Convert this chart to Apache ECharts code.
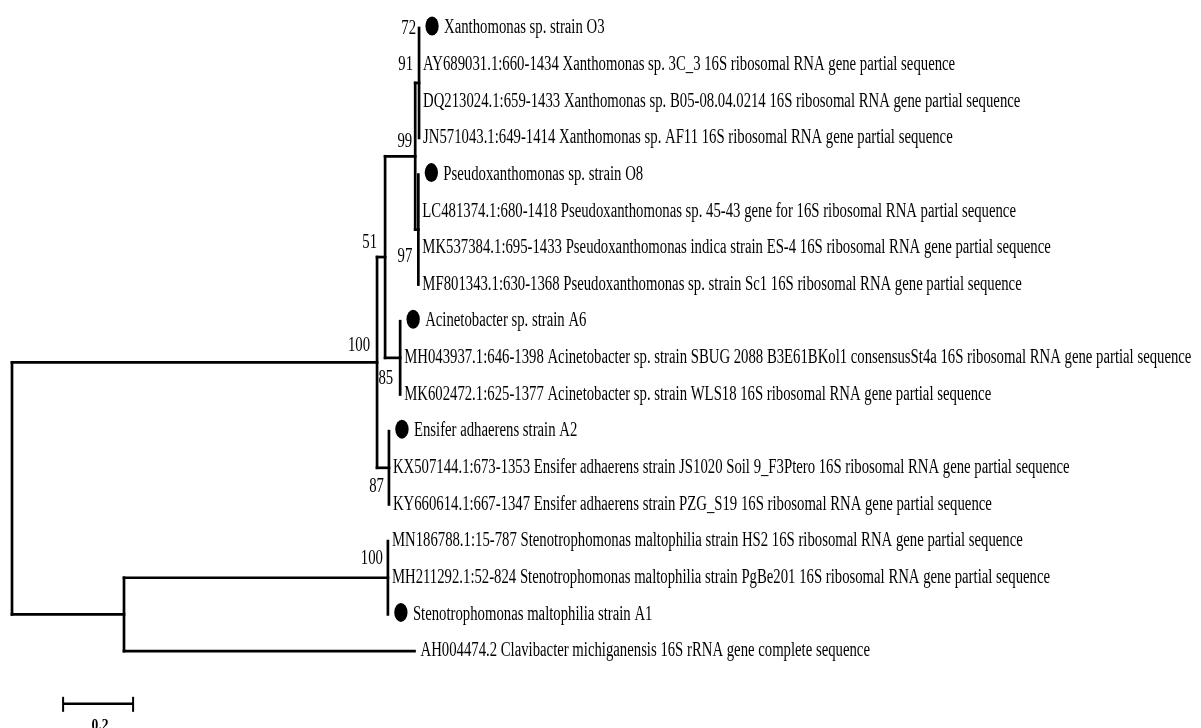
<!DOCTYPE html>
<html>
<head>
<meta charset="utf-8">
<script src="https://cdn.jsdelivr.net/npm/echarts/dist/echarts.min.js"></script>
<style>
  html, body { margin: 0; padding: 0; background: #fff; }
  #main { width: 1201px; height: 728px; }
</style>
</head>
<body>
<div id="main"></div>
<script>
// leaves, top to bottom
const leafNames = [
  'Xanthomonas sp. strain O3',
  'AY689031.1:660-1434 Xanthomonas sp. 3C_3 16S ribosomal RNA gene partial sequence',
  'DQ213024.1:659-1433 Xanthomonas sp. B05-08.04.0214 16S ribosomal RNA gene partial sequence',
  'JN571043.1:649-1414 Xanthomonas sp. AF11 16S ribosomal RNA gene partial sequence',
  'Pseudoxanthomonas sp. strain O8',
  'LC481374.1:680-1418 Pseudoxanthomonas sp. 45-43 gene for 16S ribosomal RNA partial sequence',
  'MK537384.1:695-1433 Pseudoxanthomonas indica strain ES-4 16S ribosomal RNA gene partial sequence',
  'MF801343.1:630-1368 Pseudoxanthomonas sp. strain Sc1 16S ribosomal RNA gene partial sequence',
  'Acinetobacter sp. strain A6',
  'MH043937.1:646-1398 Acinetobacter sp. strain SBUG 2088 B3E61BKol1 consensusSt4a 16S ribosomal RNA gene partial sequence',
  'MK602472.1:625-1377 Acinetobacter sp. strain WLS18 16S ribosomal RNA gene partial sequence',
  'Ensifer adhaerens strain A2',
  'KX507144.1:673-1353 Ensifer adhaerens strain JS1020 Soil 9_F3Ptero 16S ribosomal RNA gene partial sequence',
  'KY660614.1:667-1347 Ensifer adhaerens strain PZG_S19 16S ribosomal RNA gene partial sequence',
  'MN186788.1:15-787 Stenotrophomonas maltophilia strain HS2 16S ribosomal RNA gene partial sequence',
  'MH211292.1:52-824 Stenotrophomonas maltophilia strain PgBe201 16S ribosomal RNA gene partial sequence',
  'Stenotrophomonas maltophilia strain A1',
  'AH004474.2 Clavibacter michiganensis 16S rRNA gene complete sequence'
];
// 1 = own isolate (marked with a dot)
const leafIsolate = [1, 0, 0, 0, 1, 0, 0, 0, 1, 0, 0, 1, 0, 0, 0, 0, 1, 0];
const leafParent = ['xan', 'xan', 'xan', 'xan', 'pse', 'pse', 'pse', 'pse', 'aci', 'aci', 'aci',
  'ens', 'ens', 'ens', 'ste', 'ste', 'ste', 'out'];
const leafLen = [0, 0, 0, 0, 0, 0, 0, 0, 0, 0, 0, 0, 0, 0, 0, 0, 0, 0.83];

// internal nodes
const nodeIds = ['root', 'n100', 'n51', 'n99', 'xan', 'pse', 'aci', 'ens', 'out', 'ste'];
const nodeParent = [null, 'root', 'n100', 'n51', 'n99', 'n99', 'n51', 'n100', 'root', 'out'];
const nodeLen = [0, 1.043, 0.023, 0.086, 0.011, 0.009, 0.043, 0.034, 0.32, 0.754];

// bootstrap values
const supportNode = ['xan', 'xan', 'n99', 'pse', 'n51', 'n100', 'aci', 'ens', 'ste'];
const supportValue = ['72', '91', '99', '97', '51', '100', '85', '87', '100'];

const scaleBarLen = 0.2;

// label placement (px offsets from node)
const supportOffset = [[-3, -54], [-6, -18], [-3, -15], [-6, 27], [-8, -14], [-7, -17], [-7, 21], [-5, 19], [-5, -19]];

const FONT = '"Liberation Serif", "Times New Roman", serif';
const SX = 0.737; // condensed look of the original text

// ---- layout of the tree ----
function nodeX(id) {
  if (id === 'root') return 0;
  const i = nodeIds.indexOf(id);
  return nodeX(nodeParent[i]) + nodeLen[i];
}
function childYs(id) {
  const ys = [];
  nodeIds.forEach((n, i) => { if (nodeParent[i] === id) ys.push(nodeY(n)); });
  leafParent.forEach((p, i) => { if (p === id) ys.push(i); });
  return ys;
}
function nodeY(id) {
  const ys = childYs(id);
  return (Math.min(...ys) + Math.max(...ys)) / 2;
}

const segs = [];
nodeIds.forEach((id, i) => {
  const x = nodeX(id);
  const ys = childYs(id);
  segs.push([x, Math.min(...ys), x, Math.max(...ys)]);
  if (nodeParent[i]) segs.push([nodeX(nodeParent[i]), nodeY(id), x, nodeY(id)]);
});
const leafData = leafNames.map((name, i) => {
  const px = nodeX(leafParent[i]);
  if (leafLen[i] > 0) segs.push([px, i, px + leafLen[i], i]);
  return [px + leafLen[i], i, i];
});
const supportData = supportNode.map((id, i) => [nodeX(id), nodeY(id), i]);

const chart = echarts.init(document.getElementById('main'));
chart.setOption({
  animation: false,
  backgroundColor: '#fff',
  grid: { left: 12, top: 28, width: 1050, height: 17 * 36.65 },
  xAxis: { type: 'value', min: 0, max: 3, show: false },
  yAxis: { type: 'value', min: 0, max: 17, inverse: true, show: false },
  series: [
    {
      type: 'custom',
      clip: false,
      silent: true,
      encode: { x: [0, 2], y: [1, 3] },
      data: segs,
      renderItem: (params, api) => {
        const a = api.coord([api.value(0), api.value(1)]);
        const b = api.coord([api.value(2), api.value(3)]);
        return {
          type: 'line',
          shape: { x1: a[0], y1: a[1], x2: b[0], y2: b[1] },
          style: { stroke: '#000', lineWidth: 2.7, lineCap: 'square' }
        };
      }
    },
    {
      type: 'custom',
      clip: false,
      silent: true,
      encode: { x: 0, y: 1 },
      data: leafData,
      renderItem: (params, api) => {
        const idx = api.value(2);
        const p = api.coord([api.value(0), api.value(1)]);
        const children = [];
        let tx = p[0] + 4;
        if (leafLen[idx] > 0) tx = p[0] + 6;
        if (leafIsolate[idx]) {
          children.push({
            type: 'circle', x: p[0] + 13, y: p[1] - 2, scaleX: 0.7,
            shape: { cx: 0, cy: 0, r: 9.5 },
            style: { fill: '#000' }
          });
          tx = p[0] + 25;
        }
        children.push({
          type: 'text', x: tx, y: p[1], scaleX: SX,
          style: {
            text: leafNames[idx], fontSize: 20, fontFamily: FONT,
            fill: '#000', align: 'left', verticalAlign: 'middle'
          }
        });
        return { type: 'group', children };
      }
    },
    {
      type: 'custom',
      clip: false,
      silent: true,
      encode: { x: 0, y: 1 },
      data: supportData,
      renderItem: (params, api) => {
        const i = api.value(2);
        const p = api.coord([api.value(0), api.value(1)]);
        return {
          type: 'text', x: p[0] + supportOffset[i][0], y: p[1] + supportOffset[i][1], scaleX: SX,
          style: {
            text: supportValue[i], fontSize: 20, fontFamily: FONT,
            fill: '#000', align: 'right', verticalAlign: 'middle'
          }
        };
      }
    },
    {
      type: 'custom',
      clip: false,
      silent: true,
      encode: { x: 0, y: 1 },
      data: [[0.146, 18.44, scaleBarLen]],
      renderItem: (params, api) => {
        const a = api.coord([api.value(0), api.value(1)]);
        const b = api.coord([api.value(0) + api.value(2), api.value(1)]);
        const st = { stroke: '#000', lineWidth: 2.5 };
        return {
          type: 'group',
          children: [
            { type: 'line', shape: { x1: a[0], y1: a[1], x2: b[0], y2: b[1] }, style: st },
            { type: 'line', shape: { x1: a[0], y1: a[1] - 7, x2: a[0], y2: a[1] + 8 }, style: { stroke: '#000', lineWidth: 2 } },
            { type: 'line', shape: { x1: b[0], y1: b[1] - 7, x2: b[0], y2: b[1] + 8 }, style: { stroke: '#000', lineWidth: 2 } },
            {
              type: 'text', x: (a[0] + b[0]) / 2 + 2, y: a[1] + 14, scaleX: 0.85,
              style: {
                text: String(api.value(2)), fontSize: 16, fontWeight: 'bold', fontFamily: FONT,
                fill: '#000', align: 'center', verticalAlign: 'top'
              }
            }
          ]
        };
      }
    }
  ]
});
</script>
</body>
</html>
